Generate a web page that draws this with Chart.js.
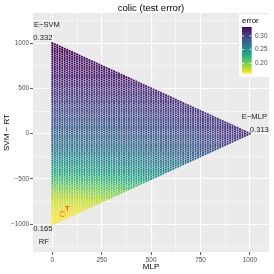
<!DOCTYPE html>
<html><head><meta charset="utf-8">
<script src="https://cdn.jsdelivr.net/npm/chart.js@4.4.0/dist/chart.umd.min.js"></script>
<style>html,body{margin:0;padding:0;background:#fff;}</style>
</head><body>
<canvas id="c" width="274" height="274"></canvas>
<script>
// ---------------- data ----------------
const chartTitle = 'colic (test error)';
const xTitle = 'MLP';
const yTitle = 'SVM − RT';
const xTickLabels = [0, 250, 500, 750, 1000];
const yTickLabels = [-1000, -500, 0, 500, 1000];
const vertexNames = ['E−SVM', 'E−MLP', 'RF'];
const vertexErrors = [0.332, 0.313, 0.165];
const bestPoint = [{x: 51, y: -889}];
const bestLabel = 'T';
const legendTitle = 'error';
const legendTicks = [0.30, 0.25, 0.20];
const errMin = 0.165, errMax = 0.332;

// error: one row per SVM−RT level (step 50),
// values at MLP = 0, 100, 200, ... inside the triangle
const yLevels = [1000,950,900,850,800,750,700,650,600,550,500,450,400,350,300,250,200,150,100,50,0,
  -50,-100,-150,-200,-250,-300,-350,-400,-450,-500,-550,-600,-650,-700,-750,-800,-850,-900,-950,-1000];
const errorRows = [
  [.332],
  [.331],
  [.330,.330],
  [.328,.328],
  [.326,.326,.326],
  [.324,.324,.324],
  [.322,.322,.322,.323],
  [.319,.319,.320,.321],
  [.317,.317,.318,.318,.319],
  [.314,.314,.315,.316,.316],
  [.311,.311,.311,.312,.313,.315],
  [.308,.308,.309,.310,.311,.313],
  [.305,.305,.306,.307,.308,.309,.312],
  [.302,.302,.303,.304,.305,.307,.310],
  [.299,.299,.300,.301,.302,.304,.307,.310],
  [.296,.296,.297,.298,.300,.302,.305,.308],
  [.293,.293,.294,.295,.297,.299,.302,.305,.309],
  [.289,.289,.290,.292,.294,.296,.299,.303,.307],
  [.286,.286,.287,.288,.290,.293,.296,.300,.304,.309],
  [.283,.283,.284,.286,.288,.291,.294,.298,.303,.308],
  [.280,.280,.281,.283,.285,.288,.292,.296,.301,.307,.313],
  [.276,.276,.277,.279,.282,.285,.289,.293,.298,.304],
  [.272,.272,.273,.275,.278,.281,.285,.290,.296,.302],
  [.267,.267,.269,.271,.273,.277,.281,.287,.293],
  [.262,.262,.264,.266,.269,.273,.278,.283,.290],
  [.256,.256,.258,.260,.264,.268,.273,.280],
  [.250,.251,.252,.255,.259,.263,.269,.276],
  [.243,.244,.245,.248,.252,.258,.264],
  [.236,.237,.239,.242,.247,.253,.260],
  [.228,.229,.231,.235,.240,.246],
  [.219,.220,.222,.227,.232,.240],
  [.210,.211,.213,.218,.223],
  [.200,.201,.204,.208,.214],
  [.191,.192,.195,.200],
  [.184,.185,.188,.192],
  [.178,.179,.182],
  [.173,.174,.176],
  [.170,.171],
  [.167,.168],
  [.166],
  [.165]
];
const tableColStep = 100;
const gridDivisions = 80;

// ---------------- colours ----------------
const viridisStops = ['#440154','#482475','#414487','#355f8d','#2a788e','#21918c','#22a884','#44bf70','#7ad151','#bddf26','#fde725'];
function hex2rgb(h){return [parseInt(h.slice(1,3),16),parseInt(h.slice(3,5),16),parseInt(h.slice(5,7),16)];}
const viridisRGB = viridisStops.map(hex2rgb);
function viridis(t){
  t = Math.max(0, Math.min(1, t));
  const p = t*(viridisRGB.length-1); const i = Math.min(Math.floor(p), viridisRGB.length-2); const f = p-i;
  const a = viridisRGB[i], b = viridisRGB[i+1];
  return 'rgb(' + [0,1,2].map(k => Math.round(a[k]+(b[k]-a[k])*f)).join(',') + ')';
}
function errColor(e){ return viridis((errMax - e)/(errMax - errMin)); }

// ---------------- points ----------------
function lookupError(x, y){
  let r = Math.round((yLevels[0] - y) / (yLevels[0] - yLevels[1]));
  r = Math.max(0, Math.min(yLevels.length-1, r));
  const row = errorRows[r];
  const c = Math.max(0, Math.min(row.length-1, Math.round(x / tableColStep)));
  return row[c];
}
const points = [];
const pointColors = [];
for (let i = 0; i <= gridDivisions; i++) {
  const rest = gridDivisions - i;
  for (let j = 0; j <= rest; j++) {
    const x = i * 1000 / gridDivisions;
    const y = (2*j - rest) * 1000 / gridDivisions;
    const e = lookupError(x, y);
    points.push({x, y, e});
    pointColors.push(errColor(e));
  }
}

// ---------------- drawing helpers ----------------
const FONT = '"Liberation Sans", Arial, sans-serif';
const fmtNum = v => (v < 0 ? '−' + Math.abs(v) : String(v));

const decorPlugin = {
  id: 'decor',
  beforeDraw(chart){
    const {ctx, chartArea: a} = chart;
    ctx.save();
    ctx.fillStyle = '#ebebeb';
    ctx.fillRect(a.left, a.top, a.right - a.left, a.bottom - a.top);
    ctx.restore();
  },
  afterDatasetsDraw(chart){
    const {ctx, chartArea: a, scales: {x: sx, y: sy}} = chart;
    ctx.save();
    // vertex labels
    ctx.fillStyle = '#1a1a1a';
    ctx.font = '7.6px ' + FONT;
    ctx.textBaseline = 'middle';
    const place = [
      {t: vertexNames[0], x: -93, y: 1200, al: 'left'},
      {t: vertexErrors[0].toFixed(3), x: 0, y: 1058, al: 'right'},
      {t: vertexNames[1], x: 1023, y: 189, al: 'center'},
      {t: vertexErrors[1].toFixed(3), x: 1000, y: 46, al: 'left'},
      {t: vertexNames[2], x: -43, y: -1197, al: 'center'},
      {t: vertexErrors[2].toFixed(3), x: 0, y: -1054, al: 'right'}
    ];
    place.forEach(p => { ctx.textAlign = p.al; ctx.fillText(p.t, sx.getPixelForValue(p.x), sy.getPixelForValue(p.y)); });
    // best label
    ctx.fillStyle = '#ff0000';
    ctx.font = '7px ' + FONT;
    ctx.textAlign = 'center';
    ctx.fillText(bestLabel, sx.getPixelForValue(bestPoint[0].x + 24), sy.getPixelForValue(bestPoint[0].y + 58));
    // title
    ctx.fillStyle = '#000';
    ctx.font = '9.6px ' + FONT;
    ctx.textAlign = 'center';
    ctx.fillText(chartTitle, (a.left + a.right)/2, 8);
    // legend
    const lx = 239, ly = 14, lw = 31, lh = 63;
    ctx.fillStyle = '#ffffff';
    ctx.fillRect(lx, ly, lw, lh);
    ctx.fillStyle = '#000';
    ctx.font = '7.9px ' + FONT;
    ctx.textAlign = 'left';
    ctx.fillText(legendTitle, 242, 21);
    const bx = 242, bw = 9.5, bt = 27, bb = 73;
    const steps = 60;
    for (let k = 0; k < steps; k++) {
      const v0 = errMax - (errMax - errMin) * k / steps;
      ctx.fillStyle = errColor(v0 - (errMax-errMin)/(2*steps));
      const y0 = bt + (bb - bt) * k / steps;
      ctx.fillRect(bx, y0, bw, (bb - bt)/steps + 0.6);
    }
    ctx.font = '6.4px ' + FONT;
    legendTicks.forEach(v => {
      const yy = bt + (errMax - v)/(errMax - errMin)*(bb - bt);
      ctx.strokeStyle = '#ffffff'; ctx.lineWidth = 0.8;
      ctx.beginPath(); ctx.moveTo(bx, yy); ctx.lineTo(bx+2, yy); ctx.moveTo(bx+bw-2, yy); ctx.lineTo(bx+bw, yy); ctx.stroke();
      ctx.fillStyle = '#4d4d4d';
      ctx.fillText(v.toFixed(2), 255, yy);
    });
    ctx.restore();
  }
};

const isMajorX = v => xTickLabels.includes(v);
const isMajorY = v => yTickLabels.includes(v);

new Chart(document.getElementById('c'), {
  type: 'scatter',
  data: {
    datasets: [
      {data: points, backgroundColor: pointColors, pointRadius: 1.15, pointHoverRadius: 1.15, borderWidth: 0, pointBorderWidth: 0},
      {data: bestPoint, backgroundColor: 'rgba(0,0,0,0)', borderColor: '#ff0000', pointBorderColor: '#ff0000', pointRadius: 2.6, pointBorderWidth: 1, borderWidth: 1}
    ]
  },
  options: {
    responsive: false,
    devicePixelRatio: 1,
    animation: false,
    events: [],
    layout: {padding: {top: 13, right: 4, left: 0, bottom: 0}},
    plugins: {legend: {display: false}, tooltip: {enabled: false}, title: {display: false}},
    scales: {
      x: {
        type: 'linear', min: -98, max: 1097,
        afterFit: s => { s.height = 22; },
        border: {display: false},
        grid: {
          color: '#ffffff',
          lineWidth: c => (c.tick && isMajorX(c.tick.value)) ? 1.1 : 0.5,
          tickLength: 3,
          tickColor: c => (c.tick && isMajorX(c.tick.value)) ? '#333333' : 'rgba(0,0,0,0)',
          tickWidth: 0.8
        },
        ticks: {
          stepSize: 125, includeBounds: false, autoSkip: false, maxRotation: 0, padding: 1,
          color: '#4d4d4d', font: {size: 6.4, family: FONT},
          callback: v => isMajorX(v) ? fmtNum(v) : ''
        },
        title: {display: true, text: xTitle, color: '#000', font: {size: 8, family: FONT}, padding: {top: 0, bottom: 2}}
      },
      y: {
        type: 'linear', min: -1308, max: 1334,
        afterFit: s => { s.width = 33; },
        border: {display: false},
        grid: {
          color: '#ffffff',
          lineWidth: c => (c.tick && isMajorY(c.tick.value)) ? 1.1 : 0.5,
          tickLength: 3,
          tickColor: c => (c.tick && isMajorY(c.tick.value)) ? '#333333' : 'rgba(0,0,0,0)',
          tickWidth: 0.8
        },
        ticks: {
          stepSize: 250, includeBounds: false, autoSkip: false, padding: 1,
          color: '#4d4d4d', font: {size: 6.4, family: FONT},
          callback: v => isMajorY(v) ? fmtNum(v) : ''
        },
        title: {display: true, text: yTitle, color: '#000', font: {size: 8, family: FONT}, padding: {top: 2, bottom: 0}}
      }
    }
  },
  plugins: [decorPlugin]
});
</script>
</body></html>
